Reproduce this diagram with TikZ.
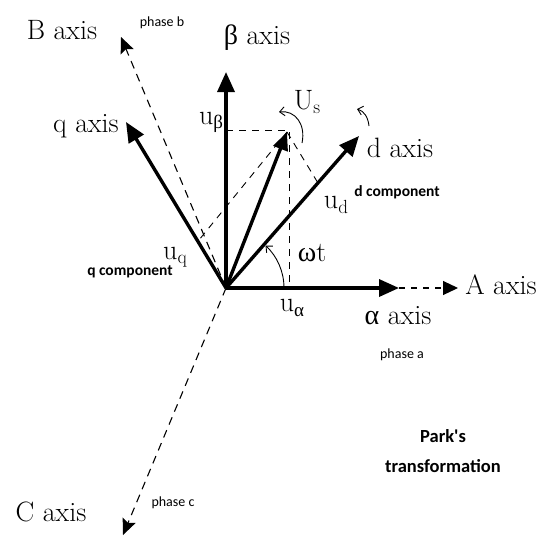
\RequirePackage{fix-cm}
\documentclass[tikz,border=0pt]{standalone}
\usepackage{fontspec}
\newfontfamily\calibfont{Carlito}
\newfontfamily\greekfont{Liberation Serif}
\usetikzlibrary{arrows.meta}

\newcommand{\lowsub}[1]{\raisebox{-0.35ex}{\fontsize{19}{19}\selectfont #1}}

\begin{document}
\begin{tikzpicture}[
  x=1pt,
  y=-1pt,
  line join=round,
  axisarrow/.style={
    -{Triangle[length=20pt,width=17pt]},
    line width=3.4pt,
    draw=black
  },
  phasearrow/.style={
    -{Stealth[length=16pt,width=14pt,inset=3pt]},
    line width=1.1pt,
    dash pattern=on 8pt off 6pt,
    draw=black
  },
  projline/.style={
    line width=0.9pt,
    dash pattern=on 7pt off 6pt,
    draw=black
  },
  rotarrow/.style={
    -{Straight Barb[length=5pt,width=9pt]},
    line width=0.9pt,
    draw=black
  },
  biglabel/.style={
    font=\fontsize{28}{30}\selectfont,
    inner sep=0pt
  },
  smalllabel/.style={
    font=\calibfont\fontsize{14}{16}\selectfont,
    inner sep=0pt
  },
  complabel/.style={
    font=\calibfont\bfseries\fontsize{15.5}{17}\selectfont,
    inner sep=0pt
  },
  titlelabel/.style={
    font=\calibfont\bfseries\fontsize{18.5}{22}\selectfont,
    inner sep=0pt,
    align=center
  }
]

\useasboundingbox (0,0) rectangle (548,536);

% =========================================================
% Points of the diagram
% =========================================================

\coordinate (O) at (226,288);
\coordinate (atip) at (399,288);
\coordinate (Atip) at (458,288);
\coordinate (btip) at (226,72);
\coordinate (Btip) at (121,37);
\coordinate (Ctip) at (123,535);
\coordinate (qtip) at (126,122);
\coordinate (dtip) at (359,136);
\coordinate (ustip) at (287,132);

\coordinate (ubeta) at (226,130);
\coordinate (ucorner) at (289,130);
\coordinate (ualpha) at (289,288);
\coordinate (qfoot) at (199,240);
\coordinate (dfoot) at (318,183);

% =========================================================
% Stator phase axes (dashed)
% =========================================================

\draw[phasearrow] (O) -- (Btip);
\draw[phasearrow] (O) -- (Ctip);
\draw[phasearrow, -{Triangle[length=15pt,width=14pt]}, dash pattern=on 6pt off 6pt]
  (atip) -- (Atip);

% =========================================================
% Projections of the space vector
% =========================================================

\draw[projline] (ubeta) -- (ucorner) -- (ualpha);
\draw[projline] (ustip) -- (qfoot);
\draw[projline] (ustip) -- (dfoot);

% =========================================================
% alpha-beta and d-q axes, space vector
% =========================================================

\draw[axisarrow] (O) -- (atip);
\draw[axisarrow] (O) -- (btip);
\draw[axisarrow] (O) -- (qtip);
\draw[axisarrow] (O) -- (dtip);
\draw[axisarrow, -{Triangle[length=18pt,width=15pt]}] (O) -- (ustip);

% angle and rotation marks
\draw[rotarrow] ([shift={(0:58)}]O) arc[start angle=0, end angle=-47, radius=58];
\draw[rotarrow] (302,143) .. controls (306,124) and (295,110) .. (279,112);
\draw[rotarrow] (369,126) .. controls (368,117) and (364,111) .. (357,109);

% =========================================================
% Labels
% =========================================================

\node[biglabel] (Blabel) at (62,30) {B axis};
\node[smalllabel] (Bphase) at (162,23) {phase b};
\node[biglabel] (betalabel) at (257,38) {{\greekfont β} axis};
\node[biglabel] (qlabel) at (86,126) {q axis};
\node[biglabel] (dlabel) at (400,148) {d axis};
\node[biglabel] (Alabel) at (501,285) {A axis};
\node[biglabel] (alphalabel) at (398,316) {{\greekfont α} axis};
\node[smalllabel] (Aphase) at (402,355) {phase a};
\node[biglabel] (Clabel) at (51,512) {C axis};
\node[smalllabel] (Cphase) at (173,503) {phase c};

\node[biglabel] (uslabel) at (307,102) {U\lowsub{s}};
\node[biglabel] (ubetalabel) at (211,122) {u\lowsub{\greekfont β}};
\node[biglabel] (udlabel) at (336,205) {u\lowsub{d}};
\node[biglabel] (uqlabel) at (175,257) {u\lowsub{q}};
\node[biglabel] (ualphalabel) at (292,308) {u\lowsub{\greekfont α}};
\node[biglabel] (wtlabel) at (312,253) {{\greekfont ω}t};

\node[complabel] (dcomp) at (397,192) {d component};
\node[complabel] (qcomp) at (130,272) {q component};

\node[titlelabel] (park) at (443,451) {Park's\\[8pt]transformation};

\end{tikzpicture}
\end{document}
